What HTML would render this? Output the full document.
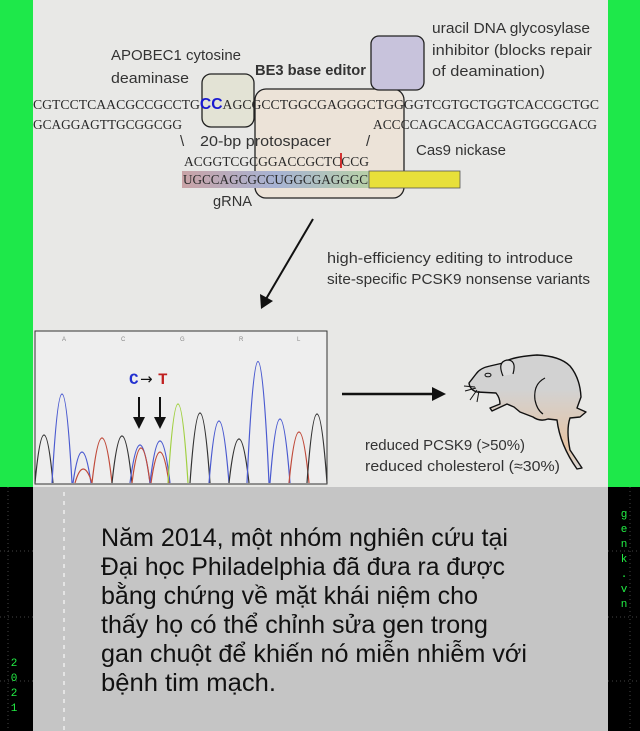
<!DOCTYPE html>
<html><head><meta charset="utf-8"><style>
html,body{margin:0;padding:0;background:#000;}
body{width:640px;height:731px;overflow:hidden;position:relative;}
svg{position:absolute;left:0;top:0;}
.s{font-family:"Liberation Sans",sans-serif;fill:#333;}
.m{font-family:"Liberation Serif",serif;fill:#2a2a2a;}
.b{font-family:"Liberation Sans","DejaVu Sans",sans-serif;font-size:25px;fill:#111;}
</style></head><body>
<svg width="640" height="731" viewBox="0 0 640 731" xmlns="http://www.w3.org/2000/svg">
<defs>
<linearGradient id="g" x1="0" x2="1"><stop offset="0" stop-color="#c9a3a6"/><stop offset="0.5" stop-color="#a7b3d4"/><stop offset="1" stop-color="#b8d0a8"/></linearGradient>
<linearGradient id="rat" x1="0" y1="0" x2="0" y2="1"><stop offset="0.3" stop-color="#d2d2d2"/><stop offset="0.8" stop-color="#e6c4a4"/><stop offset="1" stop-color="#d8d8d8"/></linearGradient>
</defs>
<rect x="0" y="0" width="33" height="487" fill="#1ee84a"/>
<rect x="608" y="0" width="32" height="487" fill="#1ee84a"/>
<rect x="33" y="0" width="575" height="487" fill="#e8e8e6"/>
<g stroke="#444" stroke-width="1" stroke-dasharray="1 3">
<line x1="0" y1="551" x2="33" y2="551"/><line x1="0" y1="617" x2="33" y2="617"/><line x1="0" y1="681" x2="33" y2="681"/>
<line x1="608" y1="551" x2="640" y2="551"/><line x1="608" y1="617" x2="640" y2="617"/><line x1="608" y1="681" x2="640" y2="681"/>
<line x1="8" y1="487" x2="8" y2="731"/><line x1="630" y1="487" x2="630" y2="731"/>
</g>
<rect x="33" y="487" width="575" height="244" fill="#c5c5c5"/>
<line x1="64" y1="492" x2="64" y2="731" stroke="#eee" stroke-width="1.5" stroke-dasharray="4 5"/>
<text class="b" x="101" y="546" textLength="407" lengthAdjust="spacingAndGlyphs">Năm 2014, một nhóm nghiên cứu tại</text>
<text class="b" x="101" y="575" textLength="404" lengthAdjust="spacingAndGlyphs">Đại học Philadelphia đã đưa ra được</text>
<text class="b" x="101" y="604" textLength="377" lengthAdjust="spacingAndGlyphs">bằng chứng về mặt khái niệm cho</text>
<text class="b" x="101" y="633" textLength="387" lengthAdjust="spacingAndGlyphs">thấy họ có thể chỉnh sửa gen trong</text>
<text class="b" x="101" y="662" textLength="426" lengthAdjust="spacingAndGlyphs">gan chuột để khiến nó miễn nhiễm với</text>
<text class="b" x="101" y="691" textLength="175" lengthAdjust="spacingAndGlyphs">bệnh tim mạch.</text>
<g style="font-family:'Liberation Mono',monospace;font-size:11px;fill:#22ee44" text-anchor="middle">
<text x="14" y="666">2</text><text x="14" y="681">0</text><text x="14" y="696">2</text><text x="14" y="711">1</text>
<text x="624" y="517">g</text><text x="624" y="532">e</text><text x="624" y="547">n</text><text x="624" y="562">k</text><text x="624" y="577">.</text><text x="624" y="592">v</text><text x="624" y="607">n</text>
</g>
<!-- boxes -->
<rect x="255" y="89" width="149" height="109" rx="11" fill="#ece3d8" stroke="#222" stroke-width="1.3"/>
<rect x="202" y="74" width="52" height="53" rx="9" fill="#e2e2d3" fill-opacity="0.9" stroke="#222" stroke-width="1.3"/>
<rect x="371" y="36" width="53" height="54" rx="8" fill="#c8c3dc" stroke="#222" stroke-width="1.3"/>
<text class="s" x="111" y="60" font-size="15" textLength="130" lengthAdjust="spacingAndGlyphs">APOBEC1 cytosine</text>
<text class="s" x="111" y="83" font-size="15" textLength="78" lengthAdjust="spacingAndGlyphs">deaminase</text>
<text class="s" x="255" y="75" font-size="15" font-weight="bold" fill="#111" textLength="111" lengthAdjust="spacingAndGlyphs">BE3 base editor</text>
<text class="s" x="432" y="33" font-size="15" textLength="158" lengthAdjust="spacingAndGlyphs">uracil DNA glycosylase</text>
<text class="s" x="432" y="55" font-size="15" textLength="160" lengthAdjust="spacingAndGlyphs">inhibitor (blocks repair</text>
<text class="s" x="432" y="76" font-size="15" textLength="113" lengthAdjust="spacingAndGlyphs">of deamination)</text>
<text class="m" x="33" y="109" font-size="14" textLength="566" lengthAdjust="spacingAndGlyphs">CGTCCTCAACGCCGCCTG<tspan fill="#1a1ad0" font-weight="bold" font-family="Liberation Sans" font-size="16">CC</tspan>AGCGCCTGGCGAGGGCTGGGGTCGTGCTGGTCACCGCTGC</text>
<text class="m" x="33" y="129" font-size="14" textLength="149" lengthAdjust="spacingAndGlyphs">GCAGGAGTTGCGGCGG</text>
<text class="m" x="373" y="129" font-size="14" textLength="224" lengthAdjust="spacingAndGlyphs">ACCCCAGCACGACCAGTGGCGACG</text>
<text class="s" x="180" y="146" font-size="15">\</text>
<text class="s" x="200" y="146" font-size="15" textLength="131" lengthAdjust="spacingAndGlyphs">20-bp protospacer</text>
<text class="s" x="366" y="146" font-size="15">/</text>
<text class="s" x="416" y="155" font-size="15" textLength="90" lengthAdjust="spacingAndGlyphs">Cas9 nickase</text>
<text class="m" x="184" y="166" font-size="14" textLength="185" lengthAdjust="spacingAndGlyphs">ACGGTCGCGGACCGCTCCCG</text>
<line x1="341" y1="153" x2="341" y2="168" stroke="#d02020" stroke-width="1.8"/>
<rect x="182" y="171" width="187" height="17" fill="url(#g)"/>
<rect x="369" y="171" width="91" height="17" fill="#e8e03a" stroke="#555" stroke-width="0.8"/>
<text class="m" x="183" y="184" font-size="14" textLength="185" lengthAdjust="spacingAndGlyphs">UGCCAGCGCCUGGCGAGGGC</text>
<text class="s" x="213" y="206" font-size="15" textLength="39" lengthAdjust="spacingAndGlyphs">gRNA</text>
<!-- arrow -->
<line x1="313" y1="219" x2="266" y2="299" stroke="#111" stroke-width="2"/>
<polygon points="261,309 260,294 273,301" fill="#111"/>
<text class="s" x="327" y="263" font-size="15" textLength="246" lengthAdjust="spacingAndGlyphs">high-efficiency editing to introduce</text>
<text class="s" x="327" y="284" font-size="15" textLength="263" lengthAdjust="spacingAndGlyphs">site-specific PCSK9 nonsense variants</text>
<!-- chromatogram -->
<rect x="35" y="331" width="292" height="153" fill="#eeeeee" stroke="#333" stroke-width="1"/>
<g font-family="Liberation Sans" font-size="6" fill="#888"><text x="62" y="341">A</text><text x="121" y="341">C</text><text x="180" y="341">G</text><text x="239" y="341">R</text><text x="297" y="341">L</text></g>
<g fill="none" stroke-width="1.2">
<path d="M35,483 Q44,387 53,483" stroke="#333"/>
<path d="M52,483 Q62,305 72,483" stroke="#4a5ad0"/>
<path d="M73,483 Q82,421 91,483" stroke="#4a5ad0"/>
<path d="M75,483 Q83,455 92,483" stroke="#c04a3a"/>
<path d="M92,483 Q102,393 112,483" stroke="#c04a3a"/>
<path d="M112,483 Q122,389 132,483" stroke="#333"/>
<path d="M130,483 Q140,407 150,483" stroke="#4a5ad0"/>
<path d="M132,483 Q141,413 150,483" stroke="#c04a3a"/>
<path d="M150,483 Q160,399 170,483" stroke="#4a5ad0"/>
<path d="M151,483 Q160,421 169,483" stroke="#c04a3a"/>
<path d="M168,483 Q178,325 188,483" stroke="#a0d040"/>
<path d="M190,483 Q200,343 210,483" stroke="#333"/>
<path d="M209,483 Q219,359 229,483" stroke="#4a5ad0"/>
<path d="M229,483 Q239,395 249,483" stroke="#333"/>
<path d="M247,483 Q258,240 269,483" stroke="#4a5ad0"/>
<path d="M270,483 Q280,355 290,483" stroke="#4a5ad0"/>
<path d="M289,483 Q299,381 309,483" stroke="#c04a3a"/>
<path d="M307,483 Q317,345 327,483" stroke="#333"/>
</g>
<text x="129" y="384" font-family="Liberation Mono" font-size="16" font-weight="bold" fill="#2230d0">C</text>
<text x="140" y="384" font-family="DejaVu Sans" font-size="15" fill="#111">→</text>
<text x="158" y="384" font-family="Liberation Mono" font-size="16" font-weight="bold" fill="#c02020">T</text>
<g stroke="#111" stroke-width="2"><line x1="139" y1="397" x2="139" y2="420"/><line x1="160" y1="397" x2="160" y2="420"/></g>
<polygon points="133,417 145,417 139,429" fill="#111"/><polygon points="154,417 166,417 160,429" fill="#111"/>
<line x1="342" y1="394" x2="434" y2="394" stroke="#111" stroke-width="2.5"/>
<polygon points="446,394 432,387 432,401" fill="#111"/>
<!-- rat -->
<path d="M469,383 L476,374 Q480,368 490,366 L503,363 Q510,357 537,355 Q560,356 570,366 Q580,378 581,397 L577,408 L586,412 L580,417 L570,418 Q566,430 570,450 L582,468 L577,469 Q560,445 557,420 L548,419 Q540,422 533,417 L520,412 L514,407 L507,404 L492,411 L490,408 L500,404 Q500,398 496,393 L477,392 Q470,390 469,383 Z" fill="url(#rat)" stroke="#111" stroke-width="1.4" stroke-linejoin="round"/>
<path d="M503,376 q-6,-14 4,-16 q10,0 6,14" fill="#ddd" stroke="#111" stroke-width="1.2"/>
<path d="M545,378 q-12,6 -10,22 q2,10 8,14" fill="none" stroke="#111" stroke-width="1.2"/>
<ellipse cx="488" cy="375" rx="3" ry="1.8" fill="none" stroke="#111" stroke-width="1"/>
<g stroke="#111" stroke-width="1"><line x1="476" y1="388" x2="465" y2="391"/><line x1="477" y1="390" x2="470" y2="400"/><line x1="479" y1="391" x2="477" y2="402"/><line x1="475" y1="387" x2="464" y2="386"/></g>
<text class="s" x="365" y="450" font-size="15" textLength="160" lengthAdjust="spacingAndGlyphs">reduced PCSK9 (&gt;50%)</text>
<text class="s" x="365" y="471" font-size="15" textLength="195" lengthAdjust="spacingAndGlyphs">reduced cholesterol (≈30%)</text>
</svg>
</body></html>
